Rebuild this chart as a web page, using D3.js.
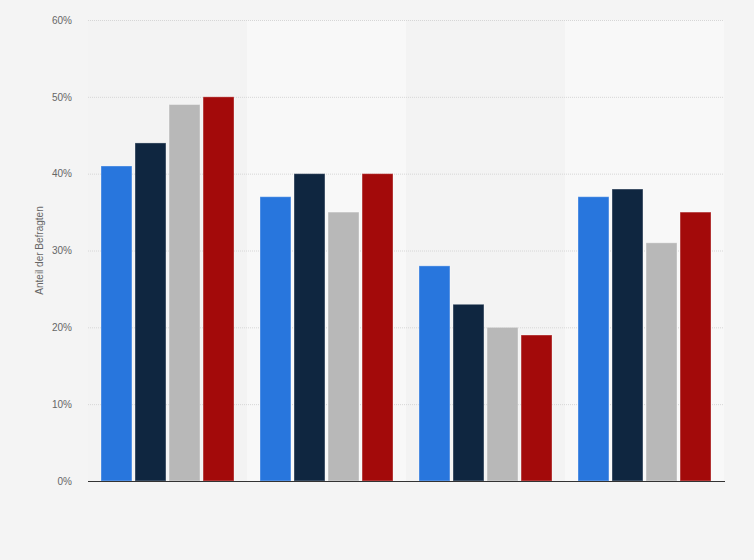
<!DOCTYPE html>
<meta charset="utf-8">
<style>
  body { margin: 0; background: #f4f4f4; }
  text { font-family: "Liberation Sans", Arial, sans-serif; }
</style>
<body>
<svg width="754" height="560"></svg>
<script src="https://d3js.org/d3.v7.min.js"></script>
<script>

// groups have no visible labels in the picture
var groups = ["A", "B", "C", "D"];
var seriesNames = ["S1", "S2", "S3", "S4"];
var s1 = [41, 37, 28, 37];
var s2 = [44, 40, 23, 38];
var s3 = [49, 35, 20, 31];
var s4 = [50, 40, 19, 35];
var yTicks = [0, 10, 20, 30, 40, 50, 60];

var colors = ["#2876dd", "#0f2640", "#b8b8b8", "#a30a0a"];
var allSeries = [s1, s2, s3, s4];

var margin = {top: 20, left: 88, right: 30, bottom: 79};
var width = 754 - margin.left - margin.right,
    height = 560 - margin.top - margin.bottom;

var svg = d3.select("svg");
svg.append("rect").attr("width", 754).attr("height", 560).attr("fill", "#f4f4f4");

var g = svg.append("g")
  .attr("transform", "translate(" + margin.left + "," + margin.top + ")");

var x0 = d3.scaleBand().domain(groups).range([0, width]).padding(0);
var x1 = d3.scaleBand().domain(seriesNames)
  .range([13, x0.bandwidth() - 13]).paddingInner(0.09);
var y = d3.scaleLinear().domain([0, 60]).range([height, 0]);

// alternating column bands
g.selectAll(".band").data(groups).enter().append("rect")
  .attr("x", function(d) { return x0(d); })
  .attr("y", 0)
  .attr("width", x0.bandwidth())
  .attr("height", height)
  .attr("fill", function(d, i) { return i % 2 ? "#f8f8f8" : "#f3f3f3"; });

// grid
g.selectAll(".grid").data(yTicks.slice(1)).enter().append("line")
  .attr("x1", 0).attr("x2", width)
  .attr("y1", function(d) { return y(d) + 0.5; })
  .attr("y2", function(d) { return y(d) + 0.5; })
  .attr("stroke", "#d6d6d6")
  .attr("stroke-dasharray", "1,1");

// y axis labels
var yAxis = d3.axisLeft(y).tickValues(yTicks)
  .tickFormat(function(d) { return d + "%"; })
  .tickSize(0).tickPadding(16);
var ya = g.append("g").call(yAxis);
ya.select(".domain").remove();
ya.selectAll("text").attr("fill", "#666").style("font-size", "10px");

// bars
var bars = g.selectAll(".grp").data(groups).enter().append("g")
  .attr("transform", function(d) { return "translate(" + x0(d) + ",0)"; });

bars.selectAll("rect")
  .data(function(d, gi) {
    return allSeries.map(function(s, si) { return {key: seriesNames[si], value: s[gi], c: colors[si]}; });
  })
  .enter().append("rect")
  .attr("x", function(d) { return x1(d.key); })
  .attr("y", function(d) { return y(d.value); })
  .attr("width", x1.bandwidth())
  .attr("height", function(d) { return height - y(d.value); })
  .attr("fill", function(d) { return d.c; })
  .attr("stroke", "rgba(255,255,255,0.35)")
  .attr("stroke-width", 1);

// baseline
g.append("line")
  .attr("x1", 0).attr("x2", width + 1)
  .attr("y1", height + 0.5).attr("y2", height + 0.5)
  .attr("stroke", "#333").attr("stroke-width", 1);

// y title
svg.append("text")
  .attr("transform", "translate(43," + (margin.top + height / 2) + ") rotate(-90)")
  .attr("text-anchor", "middle")
  .attr("fill", "#666")
  .style("font-size", "10px")
  .text("Anteil der Befragten");

</script>
</body>
